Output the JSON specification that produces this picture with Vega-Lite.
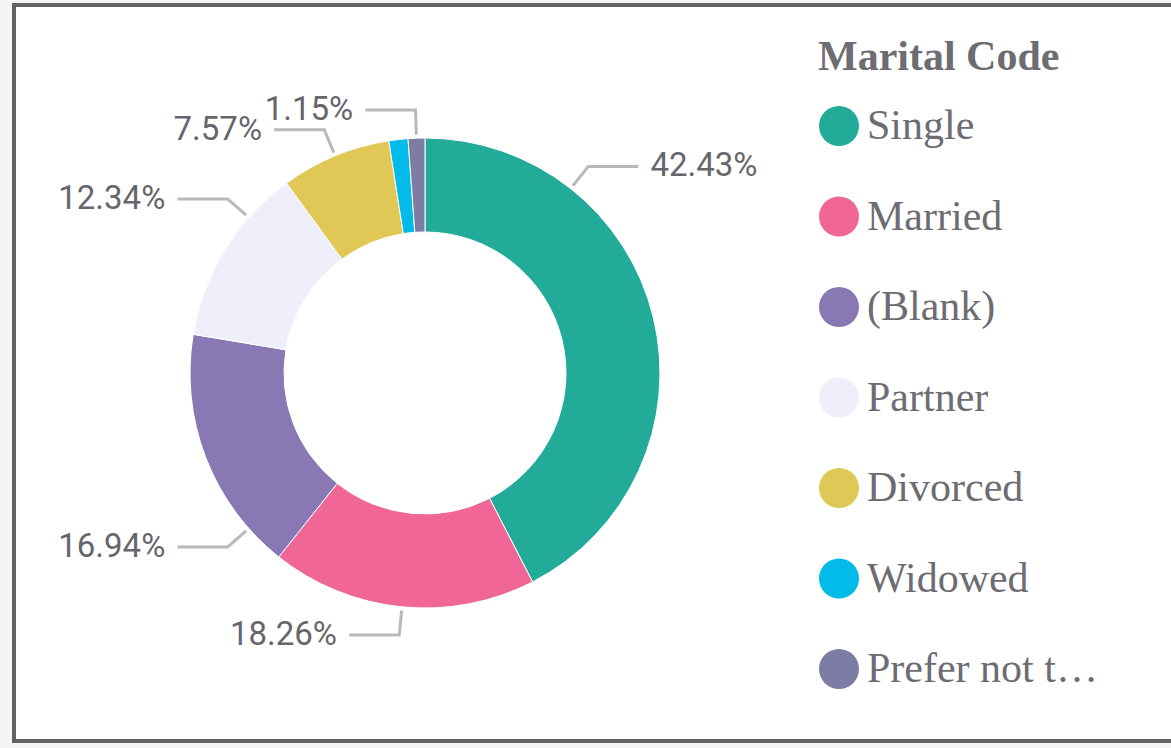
{
  "$schema": "https://vega.github.io/schema/vega-lite/v6.json",
  "width": 1161,
  "height": 736,
  "autosize": {"type": "none"},
  "padding": {"left": 14, "top": 5, "right": -4, "bottom": 7},
  "background": "#f5f5f5",
  "config": {
    "view": {"stroke": "#626262", "strokeWidth": 4, "fill": "white"},
    "legend": {
      "titleFont": "Liberation Serif",
      "titleFontSize": 42,
      "titleFontWeight": "bold",
      "titleColor": "#6e6c73",
      "titleLimit": 400,
      "labelFont": "Liberation Serif",
      "labelFontSize": 42,
      "labelColor": "#6e6c73",
      "symbolType": "circle",
      "symbolSize": 1600,
      "symbolStrokeWidth": 0,
      "rowPadding": 48.5,
      "labelOffset": 7,
      "titlePadding": 26,
      "labelLimit": 240,
      "padding": 0
    }
  },
  "data": {
    "values": [
      {"code": "Single", "pct": 42.43},
      {"code": "Married", "pct": 18.26},
      {"code": "(Blank)", "pct": 16.94},
      {"code": "Partner", "pct": 12.34},
      {"code": "Divorced", "pct": 7.57},
      {"code": "Widowed", "pct": 1.31},
      {"code": "Prefer not to say", "pct": 1.15}
    ]
  },
  "transform": [
    {"window": [{"op": "row_number", "as": "ord"}]},
    {"joinaggregate": [{"op": "sum", "field": "pct", "as": "total"}]},
    {"window": [{"op": "sum", "field": "pct", "as": "cum"}], "sort": [{"field": "ord"}], "frame": [null, 0]},
    {"calculate": "2*PI*(datum.cum - datum.pct/2)/datum.total", "as": "mid"},
    {"calculate": "sin(datum.mid)", "as": "s0"},
    {"calculate": "cos(datum.mid)", "as": "c0"},
    {"calculate": "datum.s0 >= 0 ? 0.62 : 0.75", "as": "smax"},
    {"calculate": "abs(datum.s0) > datum.smax ? (datum.s0 > 0 ? 1 : -1) * datum.smax : datum.s0", "as": "ls"},
    {"calculate": "abs(datum.s0) > datum.smax ? (datum.c0 >= 0 ? 1 : -1) * sqrt(1 - datum.smax*datum.smax) : datum.c0", "as": "lc"},
    {"calculate": "datum.ls >= 0 ? 1 : -1", "as": "side"},
    {"calculate": "format(datum.pct, '.2f') + '%'", "as": "label"},
    {"calculate": "1.12*datum.ls", "as": "ex"},
    {"calculate": "1.12*datum.lc", "as": "ey"},
    {"calculate": "datum.ex + datum.side*0.265", "as": "tx"}
  ],
  "layer": [
    {
      "mark": {"type": "arc", "outerRadius": 235, "innerRadius": 141, "stroke": "white", "strokeWidth": 1},
      "encoding": {
        "x": {"datum": 0, "type": "quantitative", "scale": {"domain": [-1.7489, 3.1915], "nice": false, "zero": false}, "axis": null},
        "y": {"datum": 0, "type": "quantitative", "scale": {"domain": [-1.566, 1.566], "nice": false, "zero": false}, "axis": null},
        "theta": {"field": "pct", "type": "quantitative", "stack": true},
        "order": {"field": "ord", "type": "quantitative"},
        "color": {
          "field": "code",
          "type": "nominal",
          "title": "Marital Code",
          "scale": {
            "domain": ["Single", "Married", "(Blank)", "Partner", "Divorced", "Widowed", "Prefer not to say"],
            "range": ["#23ab99", "#ef6697", "#8878b4", "#efeefb", "#e1c755", "#03bbe8", "#7d7ca4"]
          },
          "legend": {"orient": "none", "legendX": 804, "legendY": 32, "direction": "vertical"}
        }
      }
    },
    {
      "transform": [
        {"filter": "datum.code != 'Widowed'"},
        {"calculate": "1.015*datum.ls", "as": "p0"},
        {"calculate": "datum.ex", "as": "p1"},
        {"calculate": "datum.ex + datum.side*0.213", "as": "p2"},
        {"fold": ["p0", "p1", "p2"], "as": ["pt", "lx"]},
        {"calculate": "datum.pt == 'p0' ? 1.015*datum.lc : datum.ey", "as": "ly"}
      ],
      "mark": {"type": "line", "color": "#b9b9bd", "strokeWidth": 3},
      "encoding": {
        "x": {"field": "lx", "type": "quantitative", "scale": {"domain": [-1.7489, 3.1915], "nice": false, "zero": false}, "axis": null},
        "y": {"field": "ly", "type": "quantitative", "scale": {"domain": [-1.566, 1.566], "nice": false, "zero": false}, "axis": null},
        "detail": {"field": "code"},
        "order": {"field": "pt"}
      }
    },
    {
      "transform": [{"filter": "datum.code != 'Widowed' && datum.side > 0"}],
      "mark": {"type": "text", "align": "left", "baseline": "middle", "font": "Roboto", "fontSize": 33, "color": "#67656c"},
      "encoding": {
        "x": {"field": "tx", "type": "quantitative", "scale": {"domain": [-1.7489, 3.1915], "nice": false, "zero": false}, "axis": null},
        "y": {"field": "ey", "type": "quantitative", "scale": {"domain": [-1.566, 1.566], "nice": false, "zero": false}, "axis": null},
        "text": {"field": "label"}
      }
    },
    {
      "transform": [{"filter": "datum.code != 'Widowed' && datum.side < 0"}],
      "mark": {"type": "text", "align": "right", "baseline": "middle", "font": "Roboto", "fontSize": 33, "color": "#67656c"},
      "encoding": {
        "x": {"field": "tx", "type": "quantitative", "scale": {"domain": [-1.7489, 3.1915], "nice": false, "zero": false}, "axis": null},
        "y": {"field": "ey", "type": "quantitative", "scale": {"domain": [-1.566, 1.566], "nice": false, "zero": false}, "axis": null},
        "text": {"field": "label"}
      }
    }
  ]
}
